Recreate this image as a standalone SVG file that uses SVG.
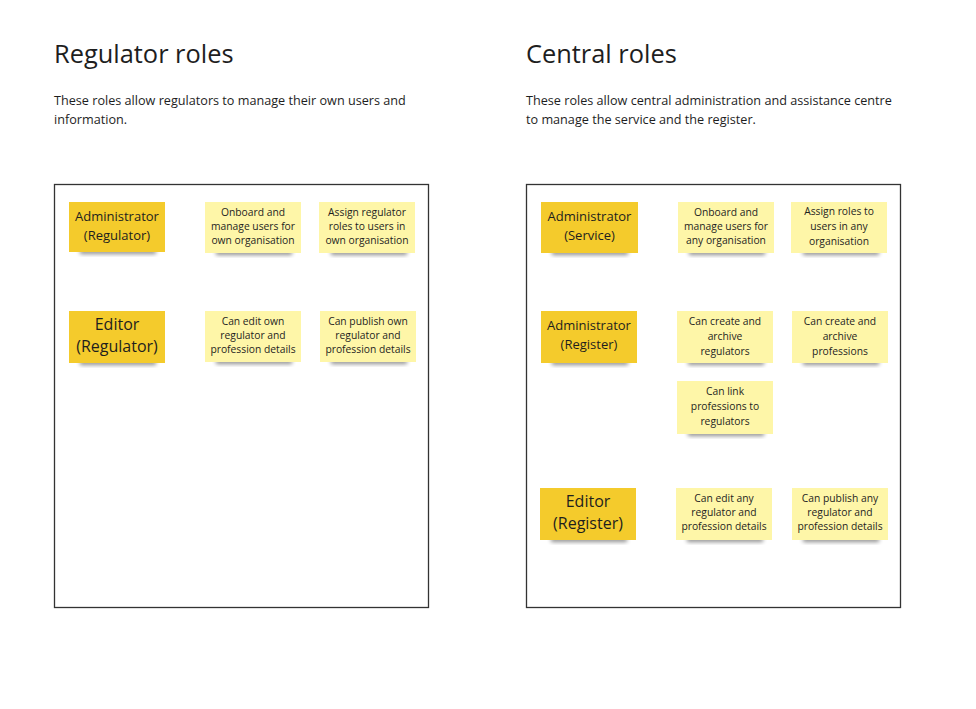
<svg xmlns="http://www.w3.org/2000/svg" width="976" height="709" viewBox="0 0 976 709">
<defs>
<filter id="sh" x="-20%" y="-50%" width="140%" height="200%"><feGaussianBlur stdDeviation="2"/></filter>
<style>
text{font-family:"Open Sans","Noto Sans","Liberation Sans",sans-serif;fill:#1e1e1e}
.title{font-size:25.4px}
.desc{font-size:12.65px}
.frame{fill:#fff;stroke:#333;stroke-width:1.3}
.dark{fill:#f4cb2c}
.light{fill:#fef6a8}
.shadow{fill:#000;opacity:0.45;filter:url(#sh)}
.ts{font-size:10.3px;text-anchor:middle}
.tm{font-size:13px;text-anchor:middle}
.tl{font-size:16px;text-anchor:middle}
</style>
</defs>
<rect width="976" height="709" fill="#fff"/>
<g id="left-header">
<text class="title" x="54" y="63">Regulator roles</text>
<text class="desc" x="54" y="105">These roles allow regulators to manage their own users and</text>
<text class="desc" x="54" y="124">information.</text>
</g>
<g id="right-header">
<text class="title" x="526" y="63">Central roles</text>
<text class="desc" x="526" y="105">These roles allow central administration and assistance centre</text>
<text class="desc" x="526" y="124">to manage the service and the register.</text>
</g>
<rect id="left-frame" class="frame" x="54.5" y="184.5" width="374" height="423"/>
<rect id="right-frame" class="frame" x="526.5" y="184.5" width="374" height="423"/>

<g id="admin-regulator">
<rect class="shadow" x="80" y="249" width="76" height="5"/>
<rect class="dark" x="69" y="202" width="96" height="50"/>
<text class="tm" x="117" y="221">Administrator</text>
<text class="tm" x="117" y="240">(Regulator)</text>
</g>
<g id="onboard-own">
<rect class="shadow" x="216" y="250" width="76" height="5"/>
<rect class="light" x="205" y="202" width="96" height="51"/>
<text class="ts" x="253" y="216">Onboard and</text>
<text class="ts" x="253" y="230">manage users for</text>
<text class="ts" x="253" y="244">own organisation</text>
</g>
<g id="assign-own">
<rect class="shadow" x="331" y="250" width="76" height="5"/>
<rect class="light" x="319" y="202" width="96" height="51"/>
<text class="ts" x="367" y="216">Assign regulator</text>
<text class="ts" x="367" y="230">roles to users in</text>
<text class="ts" x="367" y="244">own organisation</text>
</g>
<g id="editor-regulator">
<rect class="shadow" x="80" y="360" width="76" height="5"/>
<rect class="dark" x="69" y="311" width="96" height="52"/>
<text class="tl" x="117" y="330">Editor</text>
<text class="tl" x="117" y="352">(Regulator)</text>
</g>
<g id="edit-own">
<rect class="shadow" x="216" y="359" width="76" height="5"/>
<rect class="light" x="205" y="311" width="96" height="51"/>
<text class="ts" x="253" y="325">Can edit own</text>
<text class="ts" x="253" y="339">regulator and</text>
<text class="ts" x="253" y="353">profession details</text>
</g>
<g id="publish-own">
<rect class="shadow" x="331" y="359" width="76" height="5"/>
<rect class="light" x="320" y="311" width="96" height="51"/>
<text class="ts" x="368" y="325">Can publish own</text>
<text class="ts" x="368" y="339">regulator and</text>
<text class="ts" x="368" y="353">profession details</text>
</g>

<g id="admin-service">
<rect class="shadow" x="552" y="250" width="76" height="5"/>
<rect class="dark" x="541" y="202" width="97" height="51"/>
<text class="tm" x="589.5" y="221">Administrator</text>
<text class="tm" x="589.5" y="240">(Service)</text>
</g>
<g id="onboard-any">
<rect class="shadow" x="689" y="250" width="76" height="5"/>
<rect class="light" x="678" y="202" width="96" height="51"/>
<text class="ts" x="726" y="216">Onboard and</text>
<text class="ts" x="726" y="230">manage users for</text>
<text class="ts" x="726" y="244">any organisation</text>
</g>
<g id="assign-any">
<rect class="shadow" x="803" y="250" width="76" height="5"/>
<rect class="light" x="791" y="202" width="96" height="51"/>
<text class="ts" x="839" y="215">Assign roles to</text>
<text class="ts" x="839" y="230">users in any</text>
<text class="ts" x="839" y="245">organisation</text>
</g>
<g id="admin-register">
<rect class="shadow" x="552" y="360" width="76" height="5"/>
<rect class="dark" x="541" y="311" width="96" height="52"/>
<text class="tm" x="589" y="330">Administrator</text>
<text class="tm" x="589" y="349">(Register)</text>
</g>
<g id="create-regulators">
<rect class="shadow" x="688" y="360" width="76" height="5"/>
<rect class="light" x="677" y="311" width="96" height="52"/>
<text class="ts" x="725" y="325">Can create and</text>
<text class="ts" x="725" y="340">archive</text>
<text class="ts" x="725" y="355">regulators</text>
</g>
<g id="create-professions">
<rect class="shadow" x="803" y="360" width="76" height="5"/>
<rect class="light" x="792" y="311" width="96" height="52"/>
<text class="ts" x="840" y="325">Can create and</text>
<text class="ts" x="840" y="340">archive</text>
<text class="ts" x="840" y="355">professions</text>
</g>
<g id="link-professions">
<rect class="shadow" x="688" y="431" width="76" height="5"/>
<rect class="light" x="677" y="381" width="96" height="53"/>
<text class="ts" x="725" y="395">Can link</text>
<text class="ts" x="725" y="410">professions to</text>
<text class="ts" x="725" y="425">regulators</text>
</g>
<g id="editor-register">
<rect class="shadow" x="551" y="537" width="76" height="5"/>
<rect class="dark" x="540" y="488" width="96" height="52"/>
<text class="tl" x="588" y="507">Editor</text>
<text class="tl" x="588" y="529">(Register)</text>
</g>
<g id="edit-any">
<rect class="shadow" x="687" y="537" width="76" height="5"/>
<rect class="light" x="676" y="488" width="96" height="52"/>
<text class="ts" x="724" y="502">Can edit any</text>
<text class="ts" x="724" y="516">regulator and</text>
<text class="ts" x="724" y="530">profession details</text>
</g>
<g id="publish-any">
<rect class="shadow" x="803" y="537" width="76" height="5"/>
<rect class="light" x="792" y="488" width="96" height="52"/>
<text class="ts" x="840" y="502">Can publish any</text>
<text class="ts" x="840" y="516">regulator and</text>
<text class="ts" x="840" y="530">profession details</text>
</g>
<g id="connectors"/>
</svg>
